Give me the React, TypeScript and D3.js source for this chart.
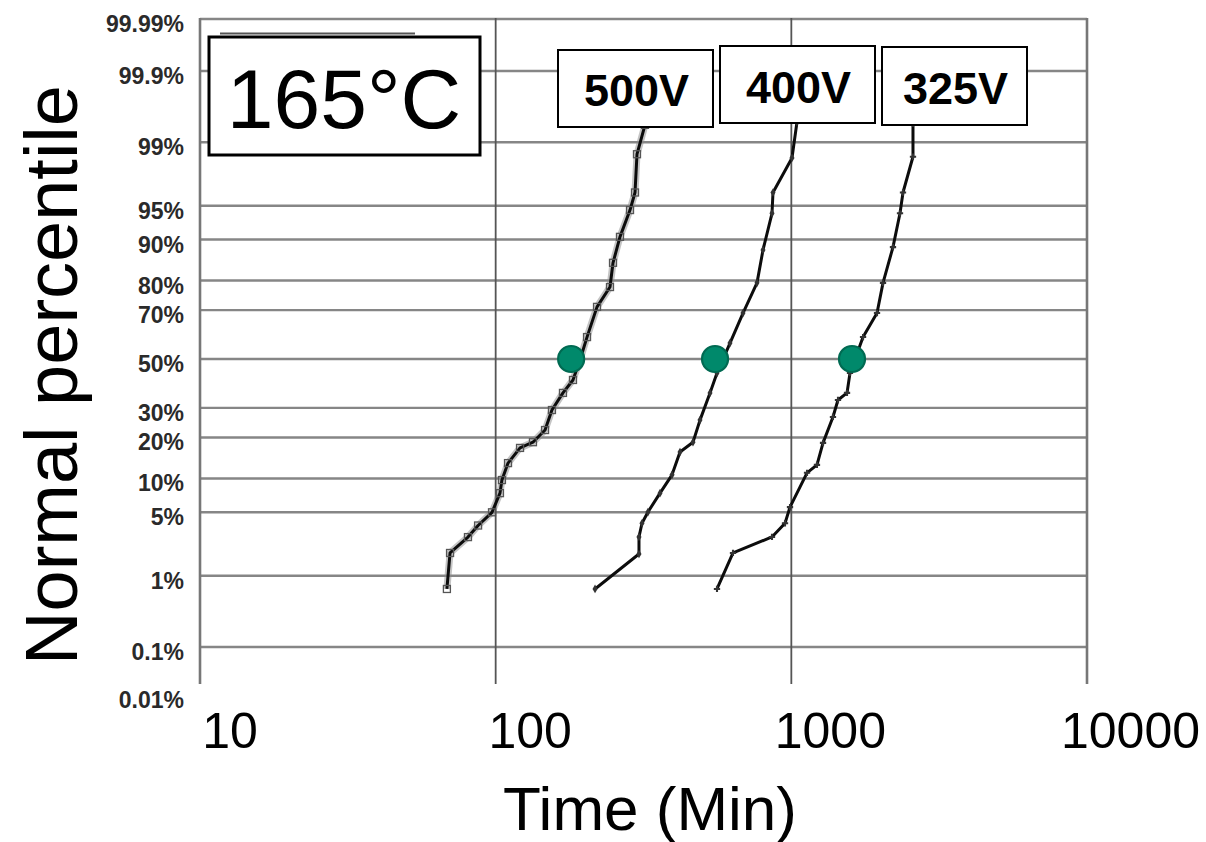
import React from "react";
import * as d3 from "d3";

// ---------- data ----------
const xTickValues = [10, 100, 1000, 10000];
const yTickValues = [0.01, 0.1, 1, 5, 10, 20, 30, 50, 70, 80, 90, 95, 99, 99.9, 99.99];
const yTickLabels = ["0.01%", "0.1%", "1%", "5%", "10%", "20%", "30%", "50%", "70%", "80%", "90%", "95%", "99%", "99.9%", "99.99%"];

const seriesNames = ["500V", "400V", "325V"];

const time500 = [68.4, 70.1, 80.6, 87.2, 97.2, 103.4, 105.0, 110.1, 120.9, 133.7, 146.9, 155.0, 168.9, 182.6, 192.8, 203.7, 220.2, 243.6, 249.4, 263.3, 284.7, 296.0, 300.6, 320.0];
const pct500 = [0.68, 1.87, 2.8, 3.7, 5.0, 7.5, 9.7, 13.2, 17.0, 18.6, 22.3, 29.2, 35.8, 41.1, 49.6, 59.3, 71.2, 78.0, 84.9, 90.5, 94.5, 96.3, 98.6, 99.4];

const time400 = [216.8, 305.3, 305.3, 312.5, 327.4, 359.6, 394.9, 420.2, 464.9, 491.0, 530.8, 560.5, 620.2, 686.3, 765.4, 802.0, 860.2, 866.9, 1005, 1045];
const pct400 = [0.68, 1.82, 2.81, 3.9, 5.03, 7.5, 10.7, 15.9, 18.6, 25.6, 35.8, 44.0, 56.8, 68.9, 79.3, 87.9, 94.1, 96.3, 98.45, 99.45];

const time325 = [560.5, 634.9, 860.2, 952.0, 989.7, 1130, 1221, 1280, 1383, 1438, 1543, 1579, 1748, 1949, 2042, 2207, 2331, 2386, 2579, 2579];
const pct325 = [0.68, 1.87, 2.81, 3.9, 5.6, 11.1, 12.8, 18.4, 26.7, 33.0, 35.8, 44.0, 59.3, 68.9, 79.3, 88.5, 94.1, 96.3, 98.5, 99.42];

const medianTimes = [180, 552, 1604];
const medianPct = 50;

// ---------- helpers ----------
function probit(p: number): number {
  const a = [-3.969683028665376e1, 2.209460984245205e2, -2.759285104469687e2, 1.38357751867269e2, -3.066479806614716e1, 2.506628277459239];
  const b = [-5.447609879822406e1, 1.615858368580409e2, -1.556989798598866e2, 6.680131188771972e1, -1.328068155288572e1];
  const c = [-7.784894002430293e-3, -3.223964580411365e-1, -2.400758277161838, -2.549732539343734, 4.374664141464968, 2.938163982698783];
  const d = [7.784695709041462e-3, 3.224671290700398e-1, 2.445134137142996, 3.754408661907416];
  const pl = 0.02425;
  if (p < pl) {
    const q = Math.sqrt(-2 * Math.log(p));
    return (((((c[0] * q + c[1]) * q + c[2]) * q + c[3]) * q + c[4]) * q + c[5]) / ((((d[0] * q + d[1]) * q + d[2]) * q + d[3]) * q + 1);
  }
  if (p <= 1 - pl) {
    const q = p - 0.5;
    const r = q * q;
    return ((((((a[0] * r + a[1]) * r + a[2]) * r + a[3]) * r + a[4]) * r + a[5]) * q) / (((((b[0] * r + b[1]) * r + b[2]) * r + b[3]) * r + b[4]) * r + 1);
  }
  const q = Math.sqrt(-2 * Math.log(1 - p));
  return -(((((c[0] * q + c[1]) * q + c[2]) * q + c[3]) * q + c[4]) * q + c[5]) / ((((d[0] * q + d[1]) * q + d[2]) * q + d[3]) * q + 1);
}

// ---------- layout ----------
const W = 1206;
const H = 842;
const left = 200;
const right = 1087;
const top = 19;
const bottom = 684;
const FONT = "'Liberation Sans', Arial, Helvetica, sans-serif";

const labelBoxes = [
  { x0: 558, x1: 713, y0: 50, y1: 127, ty: 106 },
  { x0: 720, x1: 875, y0: 46, y1: 123, ty: 103 },
  { x0: 882, x1: 1027, y0: 47, y1: 125, ty: 104 },
];

export default function App() {
  const xScale = d3.scaleLog().domain([10, 10000]).range([left, right]);
  const yScale = d3.scaleLinear().domain([probit(0.001), probit(0.999)]).range([647, 71]);
  const yOf = (pct: number) => yScale(probit(pct / 100));

  const series = [
    { name: seriesNames[0], pts: time500.map((t, i) => ({ t, p: pct500[i] })) },
    { name: seriesNames[1], pts: time400.map((t, i) => ({ t, p: pct400[i] })) },
    { name: seriesNames[2], pts: time325.map((t, i) => ({ t, p: pct325[i] })) },
  ];

  const line = d3
    .line<{ t: number; p: number }>()
    .x((d) => xScale(d.t))
    .y((d) => yOf(d.p));

  return (
    <svg width={W} height={H} style={{ position: "absolute", left: 0, top: 0, background: "#fff" }} fontFamily={FONT}>
      <rect x={0} y={0} width={W} height={H} fill="#fff" />

      {/* horizontal gridlines */}
      {yTickValues.map((v, i) => {
        if (v === 0.01 || v === 99.99) return null;
        const y = yOf(v);
        return <line key={"hg" + i} x1={left} x2={right} y1={y} y2={y} stroke="#868686" strokeWidth={2.4} />;
      })}
      {/* top border */}
      <line x1={left} x2={right} y1={top} y2={top} stroke="#868686" strokeWidth={2.4} />

      {/* vertical gridlines */}
      {xTickValues.map((v, i) => {
        const x = xScale(v);
        const edge = i === 0 || i === xTickValues.length - 1;
        return (
          <line
            key={"vg" + i}
            x1={x}
            x2={x}
            y1={top - 1}
            y2={bottom}
            stroke={edge ? "#777" : "#555"}
            strokeWidth={edge ? 2.6 : 1.8}
          />
        );
      })}

      {/* y tick labels */}
      {yTickValues.map((v, i) => {
        let cy: number;
        if (v === 99.99) cy = top + 5;
        else if (v === 0.01) cy = bottom + 16;
        else cy = yOf(v) + 5;
        return (
          <text key={"yl" + i} x={184} y={cy + 8} textAnchor="end" fontSize={23} fontWeight="bold" fill="#2a2a2a">
            {yTickLabels[i]}
          </text>
        );
      })}

      {/* x tick labels */}
      {xTickValues.map((v, i) => {
        const s = String(v);
        const x = xScale(v) + 30 + 4.5 * (s.length - 2);
        return (
          <text key={"xl" + i} x={x} y={748} textAnchor="middle" fontSize={50} fill="#000">
            {s}
          </text>
        );
      })}

      {/* axis titles */}
      <text x={650} y={830} textAnchor="middle" fontSize={62} fill="#000">
        Time (Min)
      </text>
      <text transform="translate(77,375) rotate(-90)" textAnchor="middle" fontSize={74} fill="#000">
        Normal percentile
      </text>

      {/* series lines */}
      <path d={line(series[0].pts) || ""} fill="none" stroke="#8a8a8a" strokeWidth={7} strokeOpacity={0.5} strokeLinejoin="round" />
      {series.map((s, i) => (
        <path key={"ln" + i} d={line(s.pts) || ""} fill="none" stroke="#0c0c0c" strokeWidth={3} strokeLinejoin="round" />
      ))}
      {/* markers */}
      {series[0].pts.map((d, j) => (
        <rect key={"m0" + j} x={xScale(d.t) - 3.5} y={yOf(d.p) - 3.5} width={7} height={7} fill="none" stroke="#555" strokeWidth={1.3} />
      ))}
      {series[1].pts.map((d, j) => (
        <path key={"m1" + j} d={d3.symbol(d3.symbolDiamond, 22)() || ""} transform={`translate(${xScale(d.t)},${yOf(d.p)})`} fill="#333" />
      ))}
      {series[2].pts.map((d, j) => (
        <path key={"m2" + j} d={d3.symbol(d3.symbolCross, 22)() || ""} transform={`translate(${xScale(d.t)},${yOf(d.p)})`} fill="#333" />
      ))}

      {/* median dots */}
      {medianTimes.map((t, i) => (
        <circle key={"md" + i} cx={xScale(t)} cy={yOf(medianPct)} r={13} fill="#00896b" stroke="#006a52" strokeWidth={2.2} />
      ))}

      {/* temperature box */}
      <line x1={220} x2={415} y1={33.5} y2={33.5} stroke="#555" strokeWidth={2} />
      <rect x={209} y={37} width={271} height={118} fill="#fff" stroke="#000" strokeWidth={3} />
      <text x={344} y={128} textAnchor="middle" fontSize={84} fill="#000">
        165°C
      </text>

      {/* series label boxes */}
      {labelBoxes.map((b, i) => (
        <g key={"lb" + i}>
          <rect x={b.x0} y={b.y0} width={b.x1 - b.x0} height={b.y1 - b.y0} fill="#fff" stroke="#000" strokeWidth={2} />
          <text x={(b.x0 + b.x1) / 2 + 1} y={b.ty} textAnchor="middle" fontSize={45} fontWeight="bold" fill="#000">
            {seriesNames[i]}
          </text>
        </g>
      ))}
    </svg>
  );
}
